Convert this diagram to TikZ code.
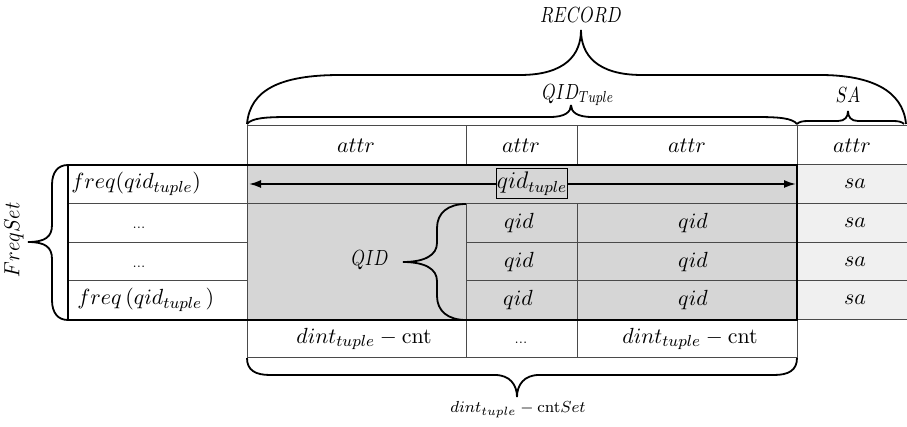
\documentclass[tikz,border=0pt]{standalone}
\usetikzlibrary{arrows.meta}
\definecolor{cellgray}{HTML}{D6D6D6}
\definecolor{sagray}{HTML}{F0F0F0}
\definecolor{gridline}{HTML}{4A4A4A}
\newcommand{\narrowcap}[1]{\scalebox{0.78}[1]{#1}}
\begin{document}
\begin{tikzpicture}[x={(0.5pt,0)},y={(0,-0.5pt)},
  gridthin/.style={draw=gridline,line width=0.5pt},
  gridthick/.style={draw=black,line width=0.9pt},
  bracepath/.style={draw=black,line width=0.9pt},
  celltext/.style={inner sep=0pt,font=\fontsize{11}{13}\selectfont},
  captext/.style={inner sep=0pt,font=\fontsize{11}{13}\selectfont},
  dotstext/.style={inner sep=0pt,font=\fontsize{6.5}{8}\selectfont},
  smalltext/.style={inner sep=0pt,font=\fontsize{8.5}{10}\selectfont}]
\useasboundingbox (0,0) rectangle (907,427);
\fill[white] (0,0) rectangle (907,427);

% fills
\fill[cellgray] (247,165) rectangle (797,320);
\fill[sagray] (797,165) rectangle (907,320);

% thin grid
\draw[gridthin] (247,126) -- (907,126);
\draw[gridthin] (797,165) -- (907,165);
\draw[gridthin] (68,204) -- (907,204);
\draw[gridthin] (68,243) -- (247,243) (466,243) -- (907,243);
\draw[gridthin] (68,281) -- (247,281) (466,281) -- (907,281);
\draw[gridthin] (797,320) -- (907,320);
\draw[gridthin] (247,358) -- (797,358);
\draw[gridthin] (247,126) -- (247,358);
\draw[gridthin] (466,126) -- (466,165) (466,204) -- (466,358);
\draw[gridthin] (577,126) -- (577,165) (577,204) -- (577,358);
\draw[gridthin] (797,126) -- (797,358);

% thick border
\draw[gridthick] (68,165) rectangle (797,320);

% header texts
\node[celltext] (h1) at (356,146) {$attr$};
\node[celltext] (h2) at (521,146) {$attr$};
\node[celltext] (h3) at (687,146) {$attr$};
\node[celltext] (h4) at (852,146) {$attr$};

% left column
\node[celltext,anchor=west] (f1) at (71,184) {$freq(qid_{tuple})$};
\node[dotstext] (d1) at (139,228) {...};
\node[dotstext] (d2) at (139,267) {...};
\node[celltext,anchor=west] (f4) at (77,300) {$freq\,(qid_{tuple}\,)$};

% qid cells
\node[celltext] (q11) at (519,223) {$qid$};
\node[celltext] (q12) at (693,223) {$qid$};
\node[celltext] (q21) at (519,262) {$qid$};
\node[celltext] (q22) at (693,262) {$qid$};
\node[celltext] (q31) at (518,300) {$qid$};
\node[celltext] (q32) at (693,300) {$qid$};

% sa cells
\node[celltext] (s1) at (855,184) {$sa$};
\node[celltext] (s2) at (855,223) {$sa$};
\node[celltext] (s3) at (855,262) {$sa$};
\node[celltext] (s4) at (855,300) {$sa$};

% bottom row
\node[celltext] (b1) at (364,339) {$dint_{tuple}-\mathrm{cnt}$};
\node[dotstext] (b2) at (521,343) {...};
\node[celltext] (b3) at (690,339) {$dint_{tuple}-\mathrm{cnt}$};

% arrow with boxed label
\coordinate (aL) at (249,184);
\coordinate (aR) at (796,184);
\draw[line width=0.9pt,{Latex[length=6pt,width=4pt]}-{Latex[length=6pt,width=4pt]}] (aL) -- (aR);
\node[draw=black,line width=0.5pt,fill=cellgray,minimum width=35pt,minimum height=15pt,inner sep=0pt,font=\fontsize{11.5}{13}\selectfont] (qt) at (532,184) {$qid_{tuple}$};

% QID brace
\node[captext] (qidlab) at (370,260) {\narrowcap{$QID$}};
\draw[bracepath] (466,204) .. controls (448,204) and (437,213) .. (437,228) -- (437,243) .. controls (437,255) and (425,262) .. (403,262);
\draw[bracepath] (466,320) .. controls (448,320) and (437,311) .. (437,296) -- (437,281) .. controls (437,269) and (425,262) .. (403,262);

% FreqSet brace
\node[font=\fontsize{10.5}{12}\selectfont,inner sep=0pt,rotate=90] (freqset) at (14,240) {\scalebox{0.92}[1]{$FreqSet$}};
\draw[bracepath] (68,165) .. controls (58,165) and (52,172) .. (52,185) -- (52,225) .. controls (52,237) and (45,242) .. (28,242);
\draw[bracepath] (68,320) .. controls (58,320) and (52,313) .. (52,300) -- (52,259) .. controls (52,247) and (45,242) .. (28,242);

% RECORD brace
\node[captext] (record) at (581,15) {\narrowcap{$RECORD$}};
\draw[bracepath] (247,124) .. controls (250,90) and (280,75) .. (340,75) -- (520,75) .. controls (565,75) and (581,55) .. (581,30);
\draw[bracepath] (906,124) .. controls (903,90) and (870,75) .. (820,75) -- (642,75) .. controls (597,75) and (581,55) .. (581,30);

% QID_Tuple brace
\node[captext] (qidtuple) at (578,95) {\narrowcap{$QID_{Tuple}$}};
\draw[bracepath] (247,124) .. controls (252,118) and (265,117) .. (290,117) -- (550,117) .. controls (565,117) and (571,112) .. (571,105);
\draw[bracepath] (797,124) .. controls (792,118) and (779,117) .. (755,117) -- (592,117) .. controls (577,117) and (571,112) .. (571,105);

% SA brace
\node[captext] (salab) at (848,95) {\narrowcap{$SA$}};
\draw[bracepath] (797,124) .. controls (799,122) and (802,121) .. (808,121) -- (838,121) .. controls (845,121) and (848,117) .. (848,111);
\draw[bracepath] (904,124) .. controls (902,122) and (899,121) .. (893,121) -- (858,121) .. controls (851,121) and (848,117) .. (848,111);

% bottom brace
\node[smalltext] (cntset) at (518,410) {$dint_{tuple}-\mathrm{cnt}Set$};
\draw[bracepath] (247,358) .. controls (247,370) and (255,375) .. (270,375) -- (495,375) .. controls (510,375) and (517,385) .. (517,397);
\draw[bracepath] (797,358) .. controls (797,370) and (789,375) .. (774,375) -- (539,375) .. controls (524,375) and (517,385) .. (517,397);
\end{tikzpicture}
\end{document}
